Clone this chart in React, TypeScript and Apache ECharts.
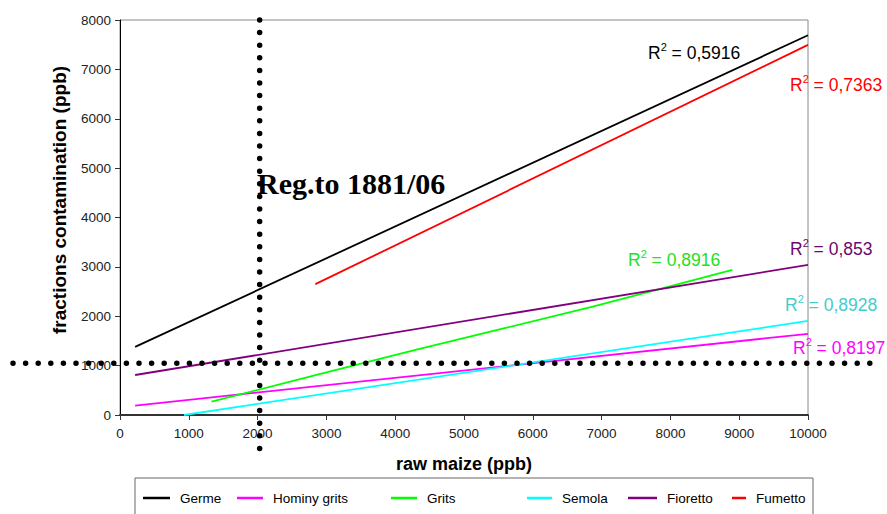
import React, { useEffect, useRef } from "react";
import * as echarts from "echarts";

// ---- data ----
const seriesNames = ["Germe", "Hominy grits", "Grits", "Semola", "Fioretto", "Fumetto"];
const seriesColors = ["#000000", "#ff00ff", "#00ff00", "#00ffff", "#800080", "#ff0000"];

const germeX = [220, 10000];
const germeY = [1380, 7690];
const hominyX = [220, 10000];
const hominyY = [190, 1645];
const gritsX = [1330, 4280, 6870, 8900];
const gritsY = [270, 1315, 2195, 2940];
const semolaX = [930, 10000];
const semolaY = [0, 1905];
const fiorettoX = [220, 10000];
const fiorettoY = [810, 3040];
const fumettoX = [2840, 10000];
const fumettoY = [2650, 7495];

const r2Values = ["0,5916", "0,8197", "0,8916", "0,8928", "0,853", "0,7363"];

const xTicks = { min: 0, max: 10000, interval: 1000 };
const yTicks = { min: 0, max: 8000, interval: 1000 };

const regX = 2030;
const regY = 1050;
const regLabel = "Reg.to 1881/06";

const xName = "raw maize (ppb)";
const yName = "fractions contamination (ppb)";

const FONT = "'Liberation Sans', Arial, sans-serif";

function pairs(xs: number[], ys: number[]) {
  return xs.map((x, i) => [x, ys[i]]);
}

export default function App() {
  const ref = useRef<HTMLDivElement>(null);
  useEffect(() => {
    if (!ref.current) return;
    const chart = echarts.init(ref.current, null, { renderer: "svg" });
    const seriesData = [
      pairs(germeX, germeY),
      pairs(hominyX, hominyY),
      pairs(gritsX, gritsY),
      pairs(semolaX, semolaY),
      pairs(fiorettoX, fiorettoY),
      pairs(fumettoX, fumettoY),
    ];
    // legend positions (icon left) and icon widths
    const legendLeft = [143, 237, 391, 527, 628, 732];
    const legendIconW = [27, 26, 26, 25, 29, 14];
    const legends = seriesNames.map((n, i) => ({
      data: [n],
      left: legendLeft[i],
      top: 491,
      padding: 0,
      icon: "rect",
      itemWidth: legendIconW[i],
      itemHeight: 2.5,
      selectedMode: false,
      textStyle: { fontFamily: FONT, fontSize: 13.5, color: "#000", padding: [0, 0, 0, 5] },
    }));

    chart.setOption({
      animation: false,
      backgroundColor: "#fff",
      color: seriesColors,
      grid: {
        left: 120,
        right: 79,
        top: 20,
        bottom: 99,
        show: true,
        borderColor: "#888",
        borderWidth: 1,
      },
      legend: legends,
      xAxis: {
        type: "value",
        min: xTicks.min,
        max: xTicks.max,
        interval: xTicks.interval,
        name: xName,
        nameLocation: "middle",
        nameGap: 40,
        nameTextStyle: { fontFamily: FONT, fontSize: 18, fontWeight: "bold", color: "#000" },
        axisLine: { show: true, lineStyle: { color: "#333", width: 2 } },
        axisTick: { show: true, length: 5, lineStyle: { color: "#333" } },
        axisLabel: {
          fontFamily: FONT,
          fontSize: 13.5,
          color: "#222",
          margin: 11,
          formatter: (v: number) => String(v),
        },
        splitLine: { show: false },
      },
      yAxis: {
        type: "value",
        min: yTicks.min,
        max: yTicks.max,
        interval: yTicks.interval,
        axisLine: { show: true, lineStyle: { color: "#000", width: 1 } },
        axisTick: { show: true, length: 5, lineStyle: { color: "#333" } },
        axisLabel: {
          fontFamily: FONT,
          fontSize: 13.5,
          color: "#222",
          margin: 9,
          formatter: (v: number) => String(v),
        },
        splitLine: { show: false },
      },
      series: seriesNames.map((n, i) => ({
        name: n,
        type: "line",
        data: seriesData[i],
        showSymbol: false,
        symbol: "none",
        smooth: i === 2 ? 0.2 : false,
        lineStyle: { width: 1.8, color: seriesColors[i] },
        itemStyle: { color: seriesColors[i] },
        clip: true,
      })),
    });

    const p = chart.convertToPixel({ gridIndex: 0 }, [regX, regY]) as number[];
    const dotStyle = {
      stroke: "#000",
      lineWidth: 5.5,
      lineDash: [0, 12.6],
      lineCap: "round",
    };
    const r2Pos = [
      [648, 53],
      [793, 348],
      [628, 260],
      [785, 305],
      [790, 249],
      [790, 85],
    ];
    const r2Colors = ["#000000", "#ff00ff", "#22e022", "#44cccc", "#6a0a6a", "#ff0000"];
    const r2Texts = r2Values.map((v, i) => ({
      type: "text",
      x: r2Pos[i][0],
      y: r2Pos[i][1],
      z: 50,
      style: {
        text: "{a|R}{s|2}{a| = " + v + "}",
        verticalAlign: "middle",
        fill: r2Colors[i],
        rich: {
          a: { fontFamily: FONT, fontSize: 17.5, fill: r2Colors[i], lineHeight: 24 },
          s: { fontFamily: FONT, fontSize: 11, fill: r2Colors[i], verticalAlign: "top", lineHeight: 12 },
        },
      },
    }));

    chart.setOption({
      graphic: [
        {
          type: "rect",
          shape: { x: 135, y: 478, width: 678, height: 60 },
          style: { fill: "none", stroke: "#666", lineWidth: 1 },
          z: 1,
        },
        {
          type: "text",
          x: 59,
          y: 200,
          rotation: Math.PI / 2,
          z: 10,
          style: {
            text: yName,
            fontFamily: FONT,
            fontSize: 19,
            fontWeight: "bold",
            fill: "#000",
            align: "center",
            verticalAlign: "middle",
          },
        },
        {
          type: "line",
          shape: { x1: p[0], y1: 20, x2: p[0], y2: 452 },
          style: dotStyle,
          z: 100,
        },
        {
          type: "line",
          shape: { x1: 13, y1: p[1], x2: 876, y2: p[1] },
          style: dotStyle,
          z: 100,
        },
        {
          type: "text",
          x: 257,
          y: 183,
          z: 101,
          style: {
            text: regLabel,
            fontFamily: "'Liberation Serif', 'Times New Roman', serif",
            fontWeight: "bold",
            fontSize: 30,
            fill: "#000",
            verticalAlign: "middle",
          },
        },
        ...r2Texts,
      ],
    });

    return () => chart.dispose();
  }, []);
  return (
    <div
      ref={ref}
      style={{ position: "fixed", left: 0, top: 0, width: 887, height: 514 }}
    />
  );
}
